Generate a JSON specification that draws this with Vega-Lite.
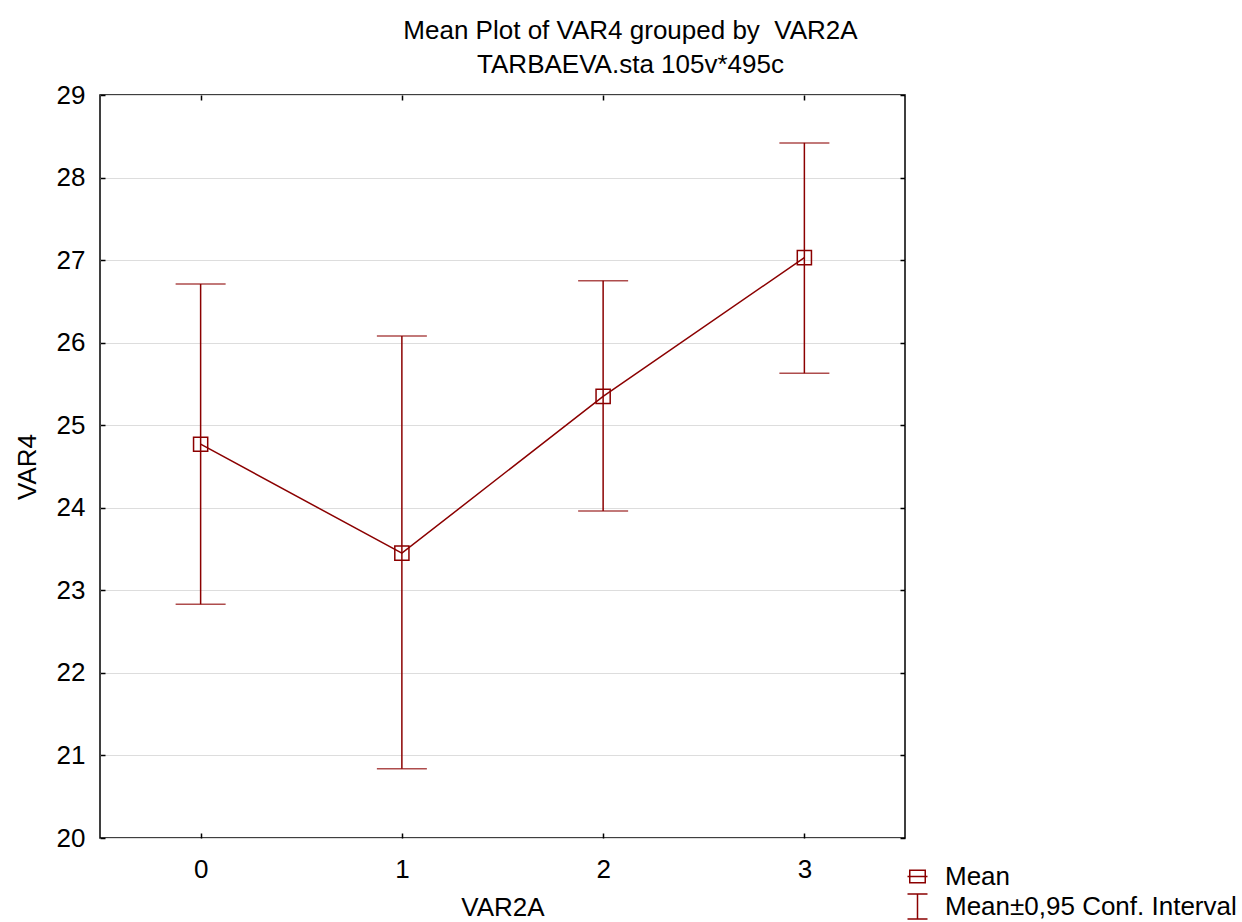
{
  "$schema": "https://vega.github.io/schema/vega-lite/v6.json",
  "autosize": "none",
  "width": 805,
  "height": 743,
  "padding": {"left": 100, "top": 95, "right": 337, "bottom": 84},
  "background": "white",
  "config": {
    "font": "Liberation Sans",
    "view": {"stroke": "black", "strokeWidth": 1.5},
    "axis": {
      "labelFont": "Liberation Sans", "labelFontSize": 26, "labelColor": "black",
      "titleFont": "Liberation Sans", "titleFontSize": 26, "titleFontWeight": "normal", "titleColor": "black",
      "domain": false, "tickColor": "black", "tickSize": -5, "tickWidth": 1.5
    }
  },
  "title": {
    "text": ["Mean Plot of VAR4 grouped by \u00a0VAR2A", "TARBAEVA.sta 105v*495c"],
    "font": "Liberation Sans", "fontSize": 26, "fontWeight": "normal", "color": "black",
    "anchor": "middle", "dx": 128, "lineHeight": 34, "offset": 4
  },
  "data": {
    "values": [
      {"VAR2A": 0, "mean": 24.77, "lo": 22.83, "hi": 26.71},
      {"VAR2A": 1, "mean": 23.45, "lo": 20.84, "hi": 26.08},
      {"VAR2A": 2, "mean": 25.35, "lo": 23.96, "hi": 26.75},
      {"VAR2A": 3, "mean": 27.03, "lo": 25.63, "hi": 28.42}
    ]
  },
  "resolve": {"axis": {"x": "independent", "y": "independent"}},
  "layer": [
    {
      "mark": {"type": "rule", "color": "#8b0000", "strokeWidth": 1.5},
      "encoding": {
        "x": {"field": "VAR2A", "type": "quantitative", "scale": {"domain": [-0.5, 3.5], "nice": false},
              "axis": {"orient": "bottom", "values": [0, 1, 2, 3], "format": "d", "grid": false, "title": "VAR2A", "labelPadding": 23, "titlePadding": 12}},
        "y": {"field": "lo", "type": "quantitative", "scale": {"domain": [20, 29], "nice": false, "zero": false},
              "axis": {"orient": "left", "values": [20, 21, 22, 23, 24, 25, 26, 27, 28, 29], "grid": true, "gridColor": "#dddddd", "gridWidth": 1, "title": "VAR4", "labelPadding": 20, "titlePadding": 16}},
        "y2": {"field": "hi"}
      }
    },
    {
      "mark": {"type": "tick", "orient": "horizontal", "color": "#8b0000", "size": 50, "thickness": 1.5},
      "encoding": {
        "x": {"field": "VAR2A", "type": "quantitative", "axis": {"orient": "top", "values": [0, 1, 2, 3], "labels": false, "grid": false, "title": null}},
        "y": {"field": "lo", "type": "quantitative", "axis": {"orient": "right", "values": [20, 21, 22, 23, 24, 25, 26, 27, 28, 29], "labels": false, "grid": false, "title": null}}
      }
    },
    {
      "mark": {"type": "tick", "orient": "horizontal", "color": "#8b0000", "size": 50, "thickness": 1.5},
      "encoding": {
        "x": {"field": "VAR2A", "type": "quantitative", "axis": null},
        "y": {"field": "hi", "type": "quantitative", "axis": null}
      }
    },
    {
      "mark": {"type": "line", "color": "#8b0000", "strokeWidth": 1.5},
      "encoding": {
        "x": {"field": "VAR2A", "type": "quantitative", "axis": null},
        "y": {"field": "mean", "type": "quantitative", "axis": null}
      }
    },
    {
      "mark": {"type": "point", "shape": "square", "filled": false, "color": "#8b0000", "strokeWidth": 1.5, "size": 200, "opacity": 1},
      "encoding": {
        "x": {"field": "VAR2A", "type": "quantitative", "axis": null},
        "y": {"field": "mean", "type": "quantitative", "axis": null}
      }
    },
    {
      "mark": {"type": "point", "filled": false, "color": "#8b0000", "opacity": 0},
      "encoding": {
        "x": {"field": "VAR2A", "type": "quantitative", "axis": null},
        "y": {"field": "mean", "type": "quantitative", "axis": null},
        "shape": {
          "datum": "Mean",
          "scale": {"domain": ["Mean", "Mean±0,95 Conf. Interval"], "range": ["M-0.62,-0.5H0.62V0.5H-0.62ZM-0.8,0H0.8", "M-0.8,-1H0.8M0,-1V1M-0.8,1H0.8"]},
          "legend": {
            "title": null, "orient": "none", "legendX": 804, "legendY": 768,
            "labelFont": "Liberation Sans", "labelFontSize": 26, "labelColor": "black", "labelLimit": 0,
            "symbolStrokeColor": "#8b0000", "symbolFillColor": "transparent", "symbolStrokeWidth": 1.5, "symbolOpacity": 1,
            "symbolSize": 625, "rowPadding": 1, "labelOffset": 14
          }
        }
      }
    }
  ]
}
